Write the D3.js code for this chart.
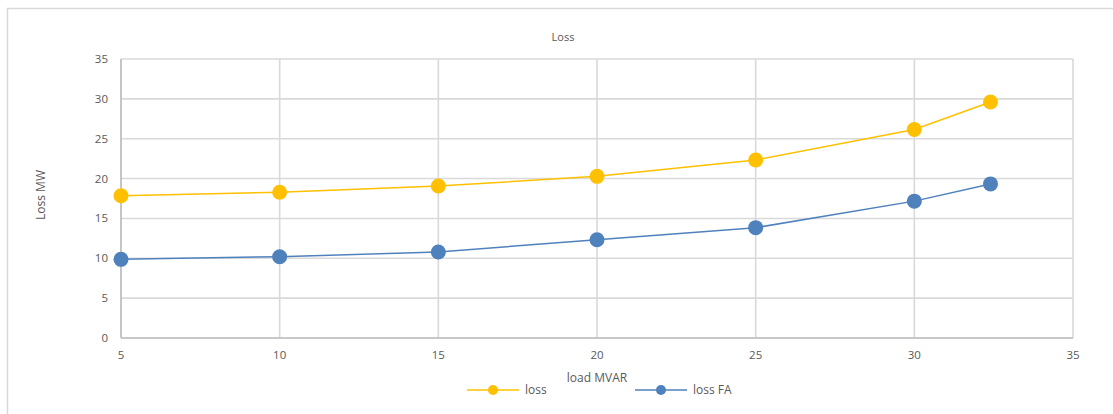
<html>
<head>
    <style>
        body {margin:0; background:#fff;}
        text {font-family: "Open Sans", "Liberation Sans", sans-serif;}
    </style>
    <script src="https://d3js.org/d3.v7.min.js"></script>
</head>
<body>
    <script>
        // Chart values
        var loadMvar = [5, 10, 15, 20, 25, 30, 32.4];
        var loss     = [17.85, 18.28, 19.07, 20.28, 22.33, 26.15, 29.6];
        var lossFA   = [9.87, 10.2, 10.79, 12.33, 13.84, 17.17, 19.33];
        var xTicks = [5, 10, 15, 20, 25, 30, 35];
        var yTicks = [0, 5, 10, 15, 20, 25, 30, 35];
        var seriesNames = ["loss", "loss FA"];
        var seriesColors = ["#ffc000", "#4f81bd"];

        var svg_width = 1113;
        var svg_height = 414;
        var txtColor = "#595959";

        var svg = d3.select("body").append("svg")
            .attr("width", svg_width)
            .attr("height", svg_height);

        // outer chart frame (runs off the right/bottom edge)
        svg.append("rect")
            .attr("x", 7.5).attr("y", 8.5)
            .attr("width", 1120).attr("height", 420)
            .attr("fill", "white")
            .attr("stroke", "#d9d9d9")
            .attr("stroke-width", 1.5);

        var x = d3.scaleLinear().domain([5, 35]).range([121, 1073]);
        var y = d3.scaleLinear().domain([0, 35]).range([338, 59]);

        //Gridlines
        svg.append("g")
            .selectAll("line")
            .data(yTicks)
            .join("line")
            .attr("x1", x(5)).attr("x2", x(35))
            .attr("y1", d => y(d))
            .attr("y2", d => y(d))
            .attr("stroke", "#d9d9d9").attr("stroke-width", 1.6);

        svg.append("g")
            .selectAll("line")
            .data(xTicks)
            .join("line")
            .attr("x1", d => x(d))
            .attr("x2", d => x(d))
            .attr("y1", y(0)).attr("y2", y(35))
            .attr("stroke", "#d9d9d9").attr("stroke-width", 1.6);

        // axis lines
        svg.append("line")
            .attr("x1", x(5)).attr("x2", x(35))
            .attr("y1", y(0)).attr("y2", y(0))
            .attr("stroke", "#bfbfbf").attr("stroke-width", 1.6);
        svg.append("line")
            .attr("x1", x(5)).attr("x2", x(5))
            .attr("y1", y(0)).attr("y2", y(35))
            .attr("stroke", "#bfbfbf").attr("stroke-width", 1.6);

        //Tick labels
        svg.append("g")
            .selectAll("text")
            .data(yTicks)
            .join("text")
            .attr("x", 108)
            .attr("y", d => y(d))
            .attr("dy", "0.35em")
            .attr("text-anchor", "end")
            .attr("font-size", 11.5)
            .attr("fill", txtColor)
            .text(d => d);

        svg.append("g")
            .selectAll("text")
            .data(xTicks)
            .join("text")
            .attr("x", d => x(d))
            .attr("y", 359)
            .attr("text-anchor", "middle")
            .attr("font-size", 11.5)
            .attr("fill", txtColor)
            .text(d => d);

        //Titles
        svg.append("text")
            .attr("x", 563).attr("y", 41)
            .attr("text-anchor", "middle")
            .attr("font-size", 11)
            .attr("fill", txtColor)
            .text("Loss");

        svg.append("text")
            .attr("x", 597).attr("y", 382)
            .attr("text-anchor", "middle")
            .attr("font-size", 12)
            .attr("fill", txtColor)
            .text("load MVAR");

        svg.append("text")
            .attr("transform", "translate(45,195) rotate(-90)")
            .attr("text-anchor", "middle")
            .attr("font-size", 12)
            .attr("fill", txtColor)
            .text("Loss MW");

        //Series
        var series = [loss, lossFA];
        var line = d3.line()
            .x((d, i) => x(loadMvar[i]))
            .y(d => y(d));

        series.forEach(function(vals, k) {
            var g = svg.append("g");
            g.append("path")
                .attr("d", line(vals))
                .attr("fill", "none")
                .attr("stroke", seriesColors[k])
                .attr("stroke-width", 1.5);
            g.selectAll("circle")
                .data(vals)
                .join("circle")
                .attr("cx", (d, i) => x(loadMvar[i]))
                .attr("cy", d => y(d))
                .attr("r", 7.5)
                .attr("fill", seriesColors[k]);
        });

        //Legend
        var legendX = [467, 635];
        var legend = svg.append("g")
            .selectAll("g")
            .data(seriesNames)
            .join("g")
            .attr("transform", (d, i) => `translate(${legendX[i]},390)`);

        legend.append("line")
            .attr("x1", 0).attr("x2", 52)
            .attr("stroke", (d, i) => seriesColors[i])
            .attr("stroke-width", 1.5);
        legend.append("circle")
            .attr("cx", 26).attr("r", 5)
            .attr("fill", (d, i) => seriesColors[i]);
        legend.append("text")
            .attr("x", 58)
            .attr("dy", "0.35em")
            .attr("font-size", 12)
            .attr("fill", txtColor)
            .text(d => d);
    </script>
</body>
</html>
